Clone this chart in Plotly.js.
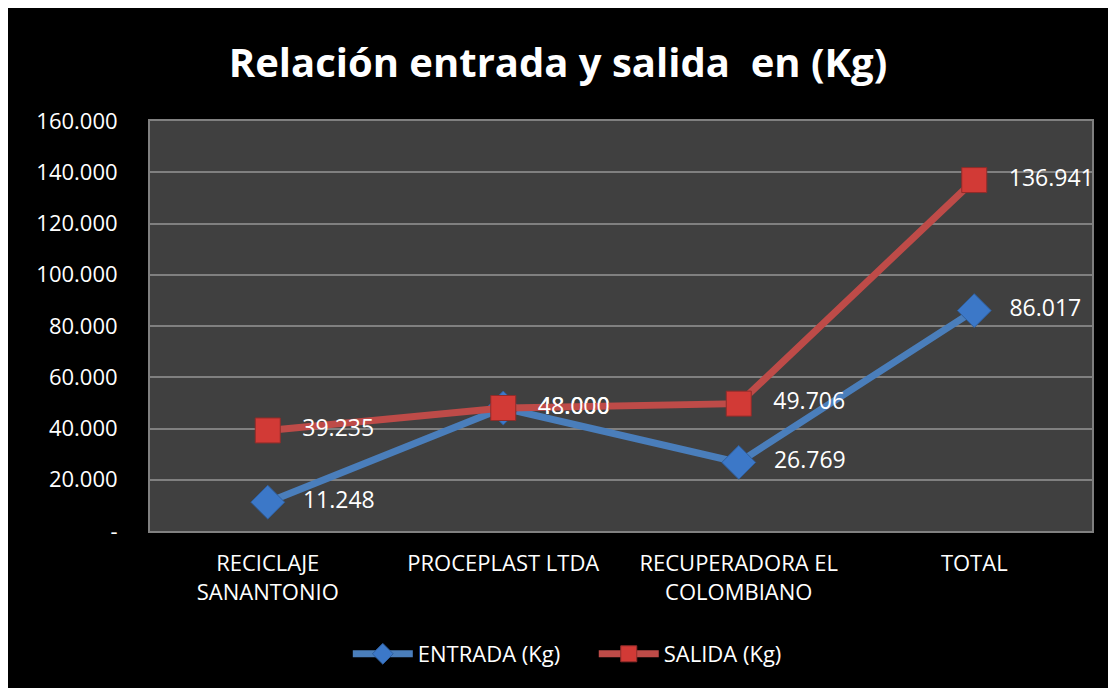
<!DOCTYPE html>
<html>
<head>
<meta charset="utf-8">
<script src="https://cdn.plot.ly/plotly-3.0.1.min.js"></script>
<style>
html,body{margin:0;padding:0;background:#ffffff;}
#chart{position:absolute;left:8px;top:8px;width:1100px;height:680px;}
</style>
</head>
<body>
<div id="chart"></div>
<script>
var categories = ["RECICLAJE<br>SANANTONIO", "PROCEPLAST LTDA", "RECUPERADORA EL<br>COLOMBIANO", "TOTAL"];
var entrada = [11248, 48000, 26769, 86017];
var salida = [39235, 48000, 49706, 136941];
var tickValues = [0, 20000, 40000, 60000, 80000, 100000, 120000, 140000, 160000];
var tickLabels = ["-", "20.000", "40.000", "60.000", "80.000", "100.000", "120.000", "140.000", "160.000"];

function fmt(v){
  return String(v).replace(/\B(?=(\d{3})+(?!\d))/g, ".");
}
function labels(arr){ return arr.map(function(v){ return "   " + fmt(v); }); }

var font = "Open Sans, Noto Sans, sans-serif";

var traces = [
  {
    x: categories, y: entrada, name: "ENTRADA (Kg)\u00a0\u00a0\u00a0\u00a0\u00a0", type: "scatter", mode: "lines+markers+text",
    line: {color: "#4a7ebb", width: 7},
    marker: {symbol: "diamond", size: 26, color: "#3c78c8", line: {color: "#2f5f9e", width: 1}},
    text: labels(entrada), textposition: "middle right",
    textfont: {family: font, size: 23, color: "#ffffff"},
    cliponaxis: false
  },
  {
    x: categories, y: salida, name: "SALIDA (Kg)", type: "scatter", mode: "lines+markers+text",
    line: {color: "#be4b48", width: 7},
    marker: {symbol: "square", size: 25, color: "#d23a36", line: {color: "#8f2c2a", width: 1}},
    text: labels(salida), textposition: "middle right",
    textfont: {family: font, size: 23, color: "#ffffff"},
    cliponaxis: false
  }
];

var layout = {
  width: 1100, height: 680,
  paper_bgcolor: "#000000", plot_bgcolor: "#404040",
  margin: {l: 142, r: 16, t: 113, b: 157, autoexpand: false},
  title: {text: "<b>Relación entrada y salida  en (Kg)</b>", x: 0.5, xanchor: "center", y: 0.919, yanchor: "middle",
          font: {family: font, size: 40, color: "#ffffff"}},
  showlegend: true,
  legend: {orientation: "h", x: 0.443, xanchor: "center", y: -0.30, yanchor: "middle",
           font: {family: font, size: 22, color: "#ffffff"}, bgcolor: "rgba(0,0,0,0)", itemwidth: 60,
           tracegroupgap: 0},
  xaxis: {
    type: "category", range: [-0.5, 3.5], showgrid: false, zeroline: false,
    showline: true, linecolor: "#808080", linewidth: 2, mirror: true,
    ticks: "", tickfont: {family: font, size: 22, color: "#ffffff"},
    ticklabelstandoff: 12, tickangle: 0
  },
  yaxis: {
    range: [0, 160000], tickvals: tickValues, ticktext: tickLabels,
    showgrid: true, gridcolor: "#808080", gridwidth: 2, zeroline: false,
    showline: true, linecolor: "#808080", linewidth: 2, mirror: true,
    ticks: "", tickfont: {family: font, size: 22, color: "#ffffff"},
    ticklabelstandoff: 26
  }
};

Plotly.newPlot("chart", traces, layout, {displayModeBar: false, staticPlot: true});
</script>
</body>
</html>
